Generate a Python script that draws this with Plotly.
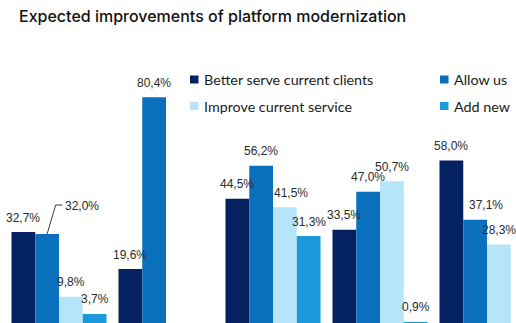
import plotly.graph_objects as go

# Survey results (%) per respondent group, one list per answer
groups = ["G1", "G2", "G3", "G4", "G5"]
series_names = ["Better serve current clients", "Allow us",
                "Improve current service", "Add new"]
better_serve = [32.7, 19.6, 44.5, 33.5, 58.0]
allow_us = [32.0, 80.4, 56.2, 47.0, 37.1]
improve_service = [9.8, None, 41.5, 50.7, 28.3]
add_new = [3.7, None, 31.3, 0.9, None]

colors = ["#04225F", "#0A70BD", "#B6E4F8", "#1A9ADB"]
values = [better_serve, allow_us, improve_service, add_new]

W, H = 516, 323
PX_PER_CAT = 107.0
BAR_PX = 23.75

fig = go.Figure()
for name, vals, col in zip(series_names, values, colors):
    fig.add_trace(go.Bar(
        x=groups, y=vals, name=name, marker_color=col,
        marker_line_width=0, showlegend=False,
    ))

def fmt(v):
    return f"{v:.1f}".replace(".", ",") + "%"

# extra horizontal nudges for crowded labels (series index, group index) -> px
nudge = {(1, 4): 11, (2, 2): 6}

annotations = []
for si, vals in enumerate(values):
    for gi, v in enumerate(vals):
        if v is None:
            continue
        xs = (si - 1.5) * BAR_PX + nudge.get((si, gi), 0)
        ys = 14.5
        if (si, gi) == (1, 0):
            # label lifted aside with a leader line
            xs, ys = 22.5, 28
        annotations.append(dict(
            x=groups[gi], y=v, xref="x", yref="y", text=fmt(v),
            showarrow=False, xshift=xs, yshift=ys,
            xanchor="center", yanchor="middle",
            font=dict(family="Liberation Sans, Arial", size=12, color="#2a2a2a"),
        ))

# leader line for the 32,0% label
shapes = [dict(
    type="path", xref="x", yref="y",
    xsizemode="pixel", ysizemode="pixel",
    xanchor=groups[0], yanchor=allow_us[0],
    path=f"M {-0.5 * BAR_PX:.1f},0 L -3.3,29 L 3.3,29",
    line=dict(color="#3a3a3a", width=1),
)]

# legend drawn as two columns of swatches + text
legend_pos = [(190, 79.5), (440, 79.5), (190, 106), (440, 106)]
for (lx, ly), name, col in zip(legend_pos, series_names, colors):
    shapes.append(dict(
        type="rect", xref="paper", yref="paper",
        x0=lx / W, x1=(lx + 8.5) / W,
        y0=1 - (ly + 4) / H, y1=1 - (ly - 4) / H,
        fillcolor=col, line=dict(width=0),
    ))
    annotations.append(dict(
        x=(lx + 12) / W, y=1 - ly / H, xref="paper", yref="paper",
        text=name, showarrow=False, xanchor="left", yanchor="middle",
        font=dict(family="Lato, Noto Sans", size=14.3, color="#1a1a1a"),
    ))

# title
annotations.append(dict(
    x=17 / W, y=1 - 15.5 / H, xref="paper", yref="paper",
    text="Expected improvements of platform modernization",
    showarrow=False, xanchor="left", yanchor="middle",
    font=dict(family="Inter, Roboto", size=16, weight=500, color="#111111"),
))

x0 = -59.0 / PX_PER_CAT
fig.update_layout(
    width=W, height=H,
    margin=dict(l=0, r=0, t=0, b=0),
    paper_bgcolor="white", plot_bgcolor="white",
    barmode="group", bargap=1 - 4 * BAR_PX / PX_PER_CAT, bargroupgap=0,
    xaxis=dict(type="category", range=[x0, x0 + W / PX_PER_CAT],
               visible=False, fixedrange=True),
    yaxis=dict(range=[0.5, 0.5 + H / 2.824], visible=False, fixedrange=True),
    annotations=annotations, shapes=shapes,
    showlegend=False,
)

fig.write_html("out.html")
